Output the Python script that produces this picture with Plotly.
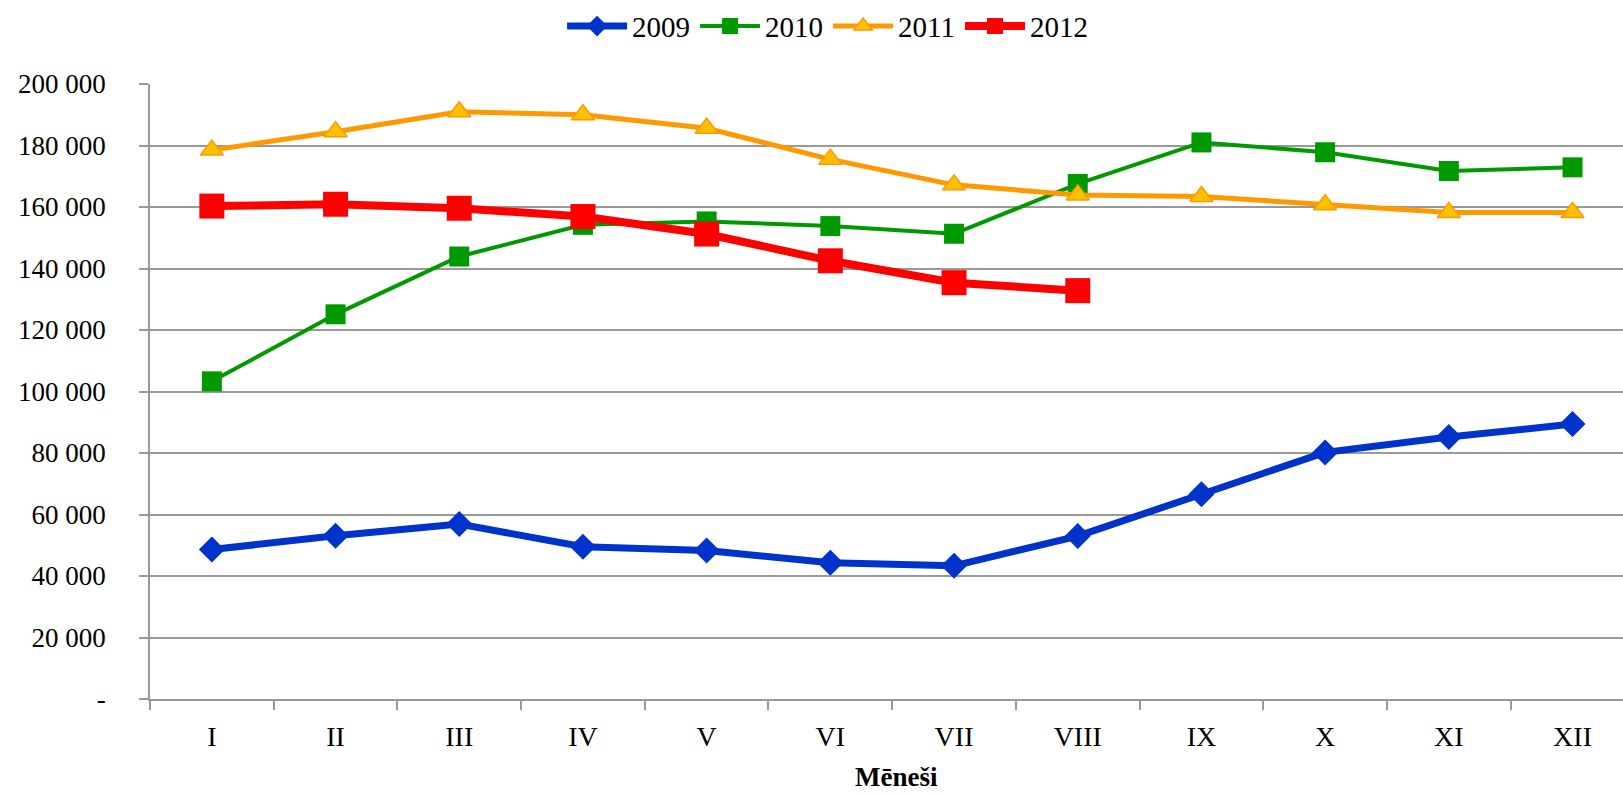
import plotly.graph_objects as go

months = ["I", "II", "III", "IV", "V", "VI", "VII", "VIII", "IX", "X", "XI", "XII"]
y2009 = [48600, 53100, 56900, 49500, 48300, 44300, 43300, 53000, 66600, 80200, 85200, 89400]
y2010 = [103300, 125100, 143900, 154200, 155300, 153800, 151300, 167500, 181000, 177800, 171700, 172900]
y2011 = [178500, 184500, 191000, 190000, 185600, 175500, 167200, 163900, 163400, 160700, 158200, 158200]
y2012 = [160300, 160900, 159600, 156900, 151200, 142500, 135400, 132800]

ytickvals = [0, 20000, 40000, 60000, 80000, 100000, 120000, 140000, 160000, 180000, 200000]
yticktext = ["-", "20 000", "40 000", "60 000", "80 000", "100 000", "120 000",
             "140 000", "160 000", "180 000", "200 000"]

FONT = "Liberation Serif"

fig = go.Figure()
fig.add_trace(go.Scatter(
    x=months, y=y2009, name="2009", mode="lines+markers",
    line=dict(color="#0033CC", width=7),
    marker=dict(symbol="diamond", size=20, color="#0033CC")))
fig.add_trace(go.Scatter(
    x=months, y=y2010, name="2010", mode="lines+markers",
    line=dict(color="#009900", width=4),
    marker=dict(symbol="square", size=20, color="#009900")))
fig.add_trace(go.Scatter(
    x=months, y=y2011, name="2011", mode="lines+markers",
    line=dict(color="#FF9900", width=5),
    marker=dict(symbol="triangle-up", size=20, color="#FFC000",
                line=dict(color="#FF9900", width=1.5))))
fig.add_trace(go.Scatter(
    x=months[:len(y2012)], y=y2012, name="2012", mode="lines+markers",
    line=dict(color="#FF0000", width=8),
    marker=dict(symbol="square", size=25, color="#FF0000")))

fig.update_layout(
    width=1623, height=795,
    margin=dict(l=150, r=0, t=84, b=96),
    paper_bgcolor="white", plot_bgcolor="white",
    font=dict(family=FONT, size=27, color="black"),
    showlegend=True,
    legend=dict(orientation="h", x=0.46, xanchor="center", y=1.094, yanchor="middle",
                font=dict(family=FONT, size=29), itemwidth=60,
                traceorder="normal", bgcolor="rgba(0,0,0,0)"),
    xaxis=dict(type="category", categoryorder="array", categoryarray=months,
               range=[-0.5, 11.408], showgrid=False, showline=True,
               linecolor="#999999", linewidth=1.5, ticks="outside", tickson="boundaries",
               ticklen=9, tickcolor="#999999", tickwidth=1.5,
               ticklabelstandoff=12, tickfont=dict(family=FONT, size=28),
               zeroline=False, fixedrange=True),
    yaxis=dict(range=[0, 200000], tickvals=ytickvals, ticktext=yticktext,
               showgrid=True, gridcolor="#999999", gridwidth=1.5,
               showline=True, linecolor="#999999", linewidth=1.5,
               ticks="outside", ticklen=9, tickcolor="#999999", tickwidth=1.5,
               ticklabelstandoff=28, tickfont=dict(family=FONT, size=27),
               zeroline=False, fixedrange=True),
    annotations=[dict(text="<b>Mēneši</b>", xref="paper", yref="paper",
                      x=(896 - 150) / 1473, y=-(777 - 699) / 615, xanchor="center",
                      yanchor="middle", showarrow=False,
                      font=dict(family=FONT, size=27, color="black"))],
)

fig.write_html("out.html", config={"displayModeBar": False},
               post_script="document.body.style.margin='0';document.body.style.padding='0';document.body.style.overflow='hidden';")
